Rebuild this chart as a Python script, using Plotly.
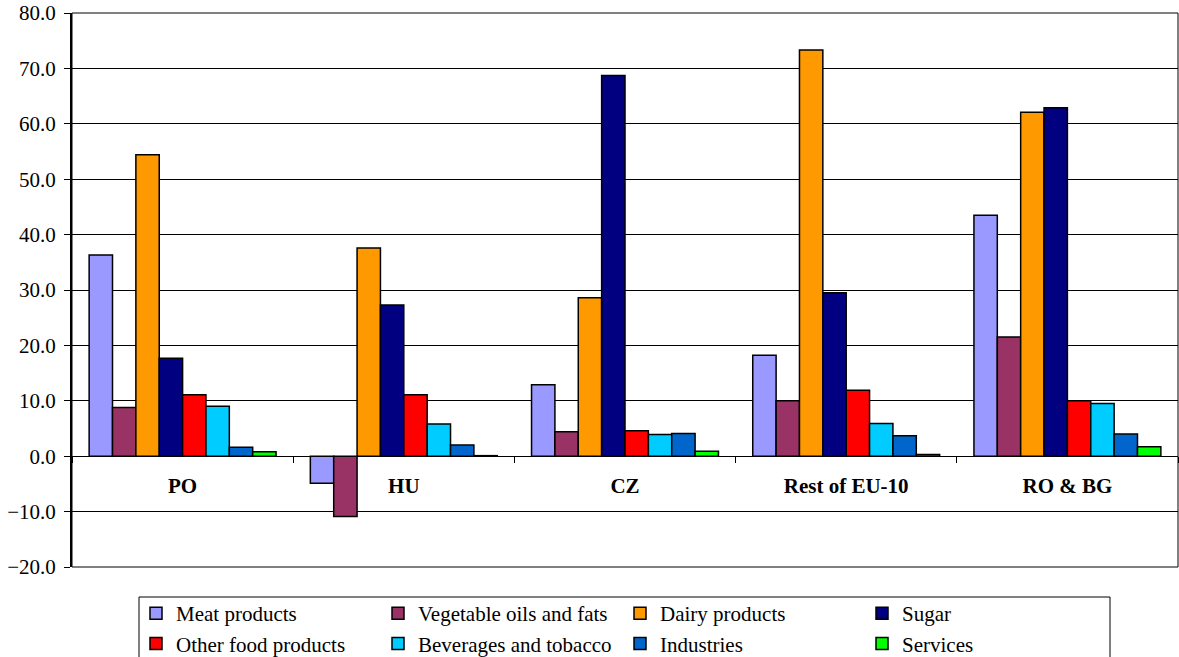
import plotly.graph_objects as go

regions = ["PO", "HU", "CZ", "Rest of EU-10", "RO & BG"]

meat_products = [36.3, -4.9, 12.9, 18.2, 43.5]
vegetable_oils = [8.8, -10.9, 4.4, 10.0, 21.5]
dairy_products = [54.4, 37.6, 28.6, 73.3, 62.1]
sugar = [17.7, 27.3, 68.7, 29.5, 62.9]
other_food = [11.1, 11.1, 4.6, 11.9, 10.0]
beverages_tobacco = [9.0, 5.8, 3.9, 5.9, 9.5]
industries = [1.6, 2.0, 4.1, 3.7, 4.0]
services = [0.8, 0.1, 0.9, 0.3, 1.7]

y_ticks = [-20, -10, 0, 10, 20, 30, 40, 50, 60, 70, 80]

series = [
    ("Meat products", meat_products, "#9999FF"),
    ("Vegetable oils and fats", vegetable_oils, "#993366"),
    ("Dairy products", dairy_products, "#FF9900"),
    ("Sugar", sugar, "#000080"),
    ("Other food products", other_food, "#FF0000"),
    ("Beverages and tobacco", beverages_tobacco, "#00CCFF"),
    ("Industries", industries, "#0066CC"),
    ("Services", services, "#00FF00"),
]

serif = "Liberation Serif"

# figure geometry in pixels
W, H = 1179, 657
L, R, T, B = 72, 1, 13, 90
plot_w = W - L - R
plot_h = H - T - B


def px_x(px):
    return (px - L) / plot_w


def px_y(py):
    return (H - B - py) / plot_h


fig = go.Figure()
for name, values, color in series:
    fig.add_trace(go.Bar(
        name=name,
        x=regions,
        y=values,
        marker=dict(color=color, line=dict(color="#000000", width=1.5)),
    ))

fig.update_layout(
    width=W,
    height=H,
    barmode="group",
    bargap=0.155,
    bargroupgap=0,
    plot_bgcolor="#FFFFFF",
    paper_bgcolor="#FFFFFF",
    font=dict(family=serif, size=21, color="#000000"),
    margin=dict(l=L, r=R, t=T, b=B, autoexpand=False),
    legend=dict(
        orientation="h",
        xref="container",
        yref="container",
        x=136 / W,
        y=(H - 593) / H,
        xanchor="left",
        yanchor="top",
        entrywidth=197,
        entrywidthmode="pixels",
        borderwidth=0,
        bgcolor="rgba(0,0,0,0)",
        font=dict(family=serif, size=21, color="#000000"),
        tracegroupgap=0,
    ),
    shapes=[
        # plot area frame
        dict(type="rect", xref="paper", yref="paper",
             x0=0, x1=1, y0=0, y1=1,
             line=dict(color="#000000", width=1), layer="above"),
        # legend frame
        dict(type="rect", xref="paper", yref="paper",
             x0=px_x(139), x1=px_x(1110), y0=px_y(597), y1=px_y(690),
             line=dict(color="#000000", width=1), layer="above"),
    ],
)

fig.update_yaxes(
    range=[-20, 80],
    tickvals=y_ticks,
    tickformat=".1f",
    showgrid=True,
    gridcolor="#000000",
    gridwidth=1,
    zeroline=True,
    zerolinecolor="#000000",
    zerolinewidth=1,
    showline=True,
    linecolor="#000000",
    linewidth=2,
    ticks="outside",
    ticklen=6,
    tickcolor="#000000",
    ticklabelstandoff=4,
    tickfont=dict(family=serif, size=21, color="#000000"),
)

fig.update_xaxes(
    type="category",
    anchor="free",
    position=0.2,
    showline=True,
    linecolor="#000000",
    linewidth=1,
    showgrid=False,
    ticks="outside",
    tickson="boundaries",
    ticklen=6,
    tickcolor="#000000",
    ticklabelstandoff=11,
    tickfont=dict(family=serif, size=21, color="#000000", weight="bold"),
)

fig.write_html("out.html")
